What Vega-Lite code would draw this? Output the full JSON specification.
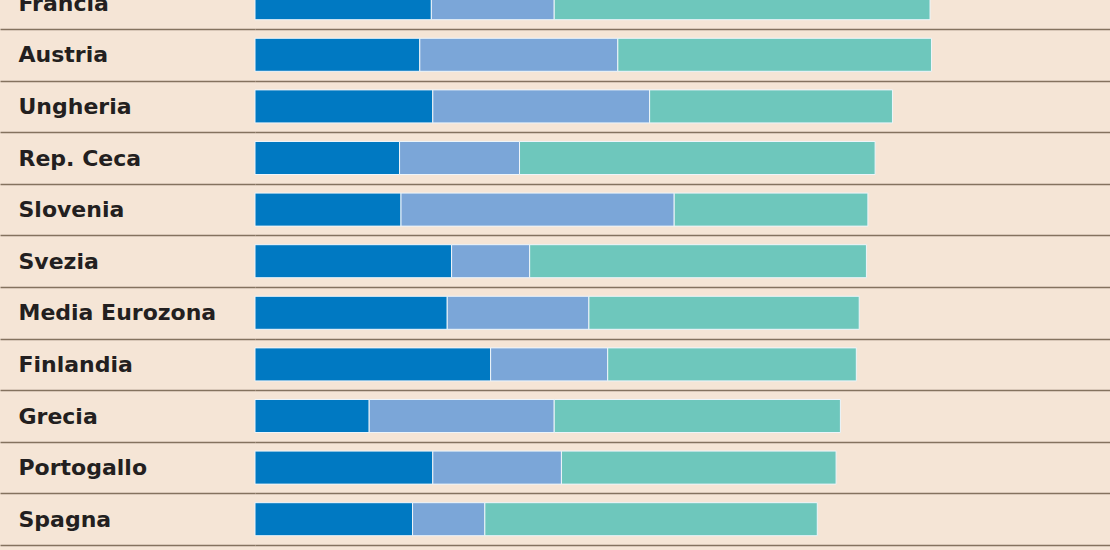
{
  "$schema": "https://vega.github.io/schema/vega-lite/v6.json",
  "width": 855,
  "height": 550,
  "autosize": {"type": "none"},
  "padding": {"left": 255, "top": 0, "right": 0, "bottom": 0},
  "background": "#f5e5d6",
  "config": {"view": {"stroke": null}},
  "data": {
    "values": [
      {"paese": "Francia", "comp": "Imposta sul reddito", "valore": 12.2},
      {"paese": "Francia", "comp": "Contributi lavoratore", "valore": 8.5},
      {"paese": "Francia", "comp": "Contributi datore di lavoro", "valore": 26.0},
      {"paese": "Austria", "comp": "Imposta sul reddito", "valore": 11.4},
      {"paese": "Austria", "comp": "Contributi lavoratore", "valore": 13.7},
      {"paese": "Austria", "comp": "Contributi datore di lavoro", "valore": 21.7},
      {"paese": "Ungheria", "comp": "Imposta sul reddito", "valore": 12.3},
      {"paese": "Ungheria", "comp": "Contributi lavoratore", "valore": 15.0},
      {"paese": "Ungheria", "comp": "Contributi datore di lavoro", "valore": 16.8},
      {"paese": "Rep. Ceca", "comp": "Imposta sul reddito", "valore": 10.0},
      {"paese": "Rep. Ceca", "comp": "Contributi lavoratore", "valore": 8.3},
      {"paese": "Rep. Ceca", "comp": "Contributi datore di lavoro", "valore": 24.6},
      {"paese": "Slovenia", "comp": "Imposta sul reddito", "valore": 10.1},
      {"paese": "Slovenia", "comp": "Contributi lavoratore", "valore": 18.9},
      {"paese": "Slovenia", "comp": "Contributi datore di lavoro", "valore": 13.4},
      {"paese": "Svezia", "comp": "Imposta sul reddito", "valore": 13.6},
      {"paese": "Svezia", "comp": "Contributi lavoratore", "valore": 5.4},
      {"paese": "Svezia", "comp": "Contributi datore di lavoro", "valore": 23.3},
      {"paese": "Media Eurozona", "comp": "Imposta sul reddito", "valore": 13.3},
      {"paese": "Media Eurozona", "comp": "Contributi lavoratore", "valore": 9.8},
      {"paese": "Media Eurozona", "comp": "Contributi datore di lavoro", "valore": 18.7},
      {"paese": "Finlandia", "comp": "Imposta sul reddito", "valore": 16.3},
      {"paese": "Finlandia", "comp": "Contributi lavoratore", "valore": 8.1},
      {"paese": "Finlandia", "comp": "Contributi datore di lavoro", "valore": 17.2},
      {"paese": "Grecia", "comp": "Imposta sul reddito", "valore": 7.9},
      {"paese": "Grecia", "comp": "Contributi lavoratore", "valore": 12.8},
      {"paese": "Grecia", "comp": "Contributi datore di lavoro", "valore": 19.8},
      {"paese": "Portogallo", "comp": "Imposta sul reddito", "valore": 12.3},
      {"paese": "Portogallo", "comp": "Contributi lavoratore", "valore": 8.9},
      {"paese": "Portogallo", "comp": "Contributi datore di lavoro", "valore": 19.0},
      {"paese": "Spagna", "comp": "Imposta sul reddito", "valore": 10.9},
      {"paese": "Spagna", "comp": "Contributi lavoratore", "valore": 5.0},
      {"paese": "Spagna", "comp": "Contributi datore di lavoro", "valore": 23.0}
    ]
  },
  "mark": {"type": "bar", "height": {"band": 0.64}, "stroke": "#eef5fa", "strokeWidth": 1},
  "encoding": {
    "y": {
      "field": "paese",
      "type": "nominal",
      "sort": null,
      "scale": {"range": [-22.6, 545], "paddingInner": 0, "paddingOuter": 0},
      "axis": {
        "title": null,
        "domain": false,
        "ticks": true,
        "tickBand": "extent",
        "tickSize": 255,
        "tickColor": "#84725f",
        "tickWidth": 1.5,
        "grid": true,
        "gridColor": "#84725f",
        "gridWidth": 1.5,
        "gridOpacity": 1,
        "labelAlign": "left",
        "labelBaseline": "middle",
        "labelPadding": -18,
        "labelFont": "DejaVu Sans",
        "labelFontWeight": "bold",
        "labelFontSize": 22,
        "labelColor": "#231f20",
        "labelLimit": 240
      }
    },
    "x": {
      "field": "valore",
      "type": "quantitative",
      "stack": "zero",
      "scale": {"domain": [0, 59.15], "nice": false, "zero": true},
      "axis": null
    },
    "color": {
      "field": "comp",
      "type": "nominal",
      "scale": {
        "domain": ["Imposta sul reddito", "Contributi lavoratore", "Contributi datore di lavoro"],
        "range": ["#0079c2", "#7ba6d8", "#6ec7bc"]
      },
      "legend": null
    },
    "order": {"field": "comp", "sort": "descending"}
  }
}
